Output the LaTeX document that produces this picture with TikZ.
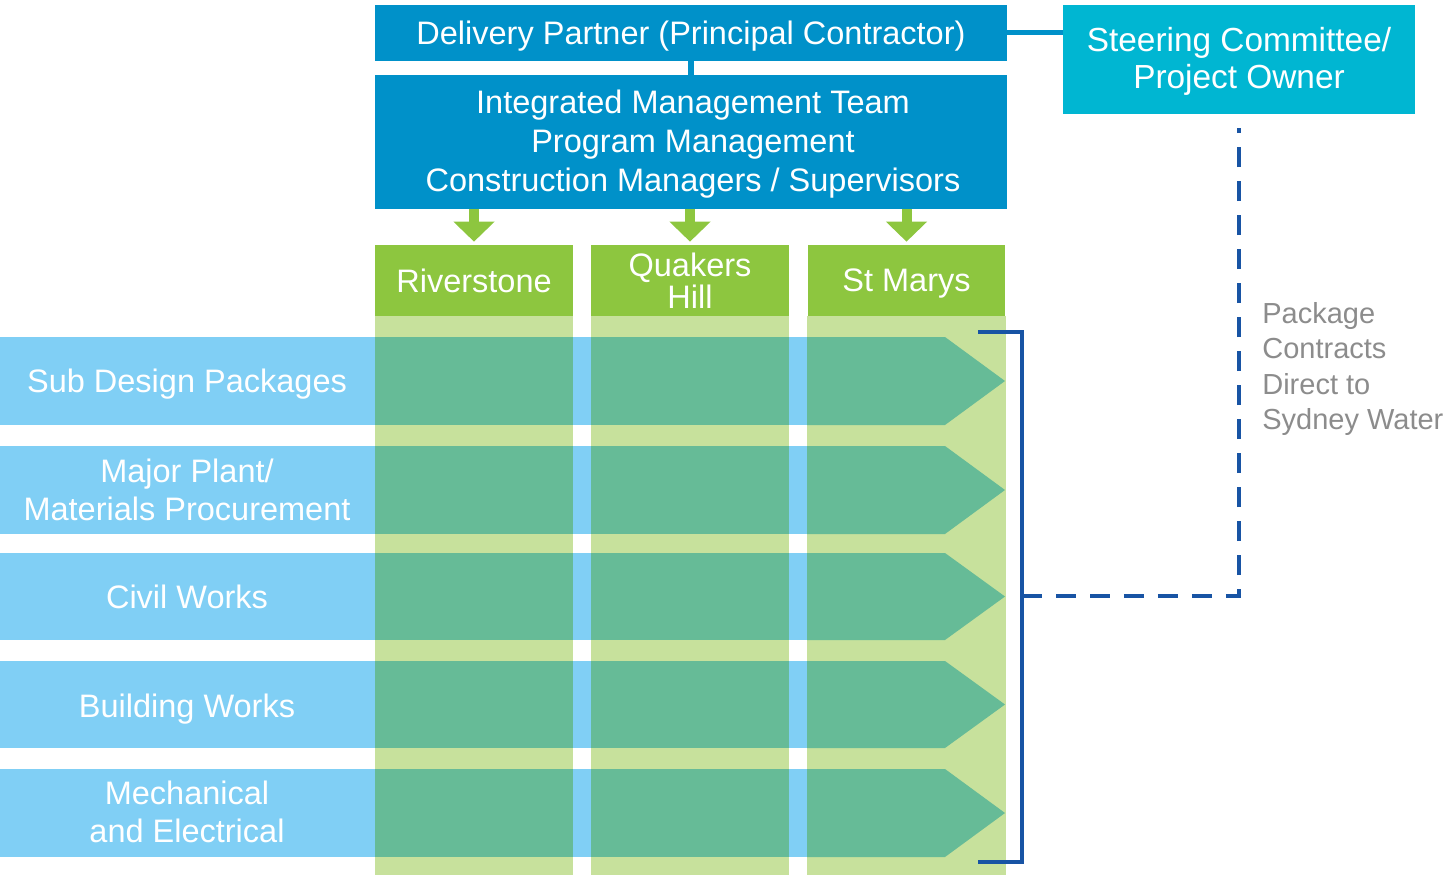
\documentclass[tikz,border=0pt]{standalone}
\usepackage{fontspec}
\setmainfont{Liberation Sans}
\usetikzlibrary{arrows.meta}

\definecolor{dpblue}{RGB}{0,145,201}
\definecolor{steercyan}{RGB}{0,182,210}
\definecolor{hdgreen}{RGB}{141,198,63}
\definecolor{colgreen}{RGB}{199,225,156}
\definecolor{rowblue}{RGB}{128,207,245}
\definecolor{pkggreen}{RGB}{102,187,151}
\definecolor{brkblue}{RGB}{24,84,164}
\definecolor{notegray}{RGB}{140,140,140}

\tikzset{
  box/.style={fill=#1, text=white, inner sep=0pt, align=center},
  oneline/.style={text depth=0pt},
  rowtext/.style={text=white, align=center, inner sep=0pt},
  downarr/.style={draw=hdgreen, line width=0.2cm, -{Triangle[width=0.8cm,length=0.4cm]}, shorten >=0.06cm},
  brk/.style={draw=brkblue, line width=0.08cm}
}

\begin{document}
\begin{tikzpicture}[x=0.02cm, y=-0.02cm, font=\fontsize{18.5}{22}\selectfont]
    \useasboundingbox (0,0) rectangle (1453,875);

    % Top boxes
    \node[box=dpblue, oneline, minimum width=12.64cm, minimum height=1.12cm] (dp) at (691,33) {Delivery Partner (Principal Contractor)};
    \node[box=dpblue, minimum width=12.64cm, minimum height=2.68cm] (imt) at (691,142) {};
    \node[rowtext] (imttxt) at (693,144)
        {Integrated Management Team\\Program Management\\Construction Managers / Supervisors};
    \node[box=steercyan, minimum width=7.04cm, minimum height=2.18cm] (steer) at (1239,59.5) {};
    \node[rowtext, font=\fontsize{19}{21}\selectfont] (steertxt) at (1239,61.5) {Steering Committee/\\Project Owner};

    % Links between top boxes
    \draw[dpblue, line width=0.1cm] (dp.east) -- (dp.east -| steer.west);
    \draw[dpblue, line width=0.12cm] (dp.south) -- (imt.north);

    % Site headers
    \node[box=hdgreen, oneline, minimum width=3.96cm, minimum height=1.42cm] (riv) at (474,280.5) {Riverstone};
    \node[box=hdgreen, minimum width=3.96cm, minimum height=1.42cm, font=\fontsize{18.5}{18}\selectfont] (qh) at (690,280.5) {Quakers\\Hill};
    \node[box=hdgreen, oneline, minimum width=3.96cm, minimum height=1.42cm] (stm) at (906.5,280.5) {St Marys};

    % Arrows from the team down to each site
    \foreach \n in {riv,qh,stm}
        \draw[downarr] (imt.south -| \n.north) -- (\n.north);

    % Light green columns under the sites
    \foreach \n in {riv,qh,stm}
        \fill[colgreen] (\n.south west) rectangle (\n.south east |- 0,875);

    % Package rows
    \foreach \ya/\yb in {337/425,446/534,553/640,661/748,769/857} {
        \fill[rowblue] (0,\ya) rectangle (807,\yb);
        \fill[pkggreen] (375,\ya) rectangle (573,\yb);
        \fill[pkggreen] (591,\ya) rectangle (789,\yb);
        \fill[pkggreen] (807,\ya) -- (945,\ya) -- (1005,{(\ya+\yb)/2}) -- (945,\yb) -- (807,\yb) -- cycle;
    }

    % Row labels
    \node[rowtext, oneline] (sdp) at (187,381) {Sub Design Packages};
    \node[rowtext] (mpp) at (187,490) {Major Plant/\\Materials Procurement};
    \node[rowtext, oneline] (civ) at (187,597) {Civil Works};
    \node[rowtext, oneline] (bld) at (187,706) {Building Works};
    \node[rowtext] (mne) at (187,812) {Mechanical\\and Electrical};

    % Bracket round the packages
    \draw[brk] (978,332) -- (1022,332) -- (1022,862) -- (978,862);
    \coordinate (bmid) at (1022,596);

    % Dashed link up to the owner
    \draw[brk, dash pattern=on 0.4cm off 0.28cm, shorten >=0.28cm] (bmid) -| (steer.south);

    % Note
    \node[text=notegray, anchor=west, align=left, inner sep=0pt, font=\fontsize{16.5}{20}\selectfont] (note) at (1262,369)
        {Package\\Contracts\\Direct to\\Sydney Water};
\end{tikzpicture}
\end{document}
